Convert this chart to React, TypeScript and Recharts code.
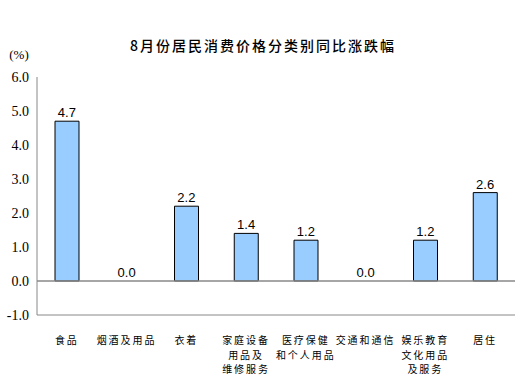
import React from 'react';
import { ComposedChart, Bar, Line, XAxis, YAxis, ReferenceLine } from 'recharts';

const categories = ['食品', '烟酒及用品', '衣着', '家庭设备\n用品及\n维修服务', '医疗保健\n和个人用品', '交通和通信', '娱乐教育\n文化用品\n及服务', '居住'];
const values = [4.7, 0.0, 2.2, 1.4, 1.2, 0.0, 1.2, 2.6];
const yTicks = [-1, 0, 1, 2, 3, 4, 5, 6];

const data = categories.map((name, i) => ({ name, value: values[i] }));

const CJK = '"Noto Sans CJK SC", "Noto Sans", sans-serif';

const CategoryTick = (props: any) => {
  const { x, y, payload } = props;
  const lines = String(payload.value).split('\n');
  return (
    <g transform={`translate(${x},${y})`}>
      {lines.map((line, i) => (
        <text key={i} x={0} y={21 + i * 14.5} textAnchor="middle" fontSize={10} letterSpacing={2} fill="#000" fontFamily={CJK}>
          {line}
        </text>
      ))}
    </g>
  );
};

// labels come from an invisible line so the zero bars get one too
const ValueLabel = (props: any) => {
  const { x, y, value } = props;
  return (
    <text x={x} y={y - 4} textAnchor="middle" fontSize={13} fill="#000" fontFamily='"Liberation Sans", Arial, sans-serif'>
      {Number(value).toFixed(1)}
    </text>
  );
};

export default function App() {
  return (
    <div style={{ position: 'absolute', left: 0, top: 0, width: 529, height: 388, background: '#fff' }}>
      <ComposedChart width={529} height={388} data={data} margin={{ top: 77, right: 14, bottom: 0, left: 0 }}>
        <text x={263} y={51} textAnchor="middle" fontSize={14} letterSpacing={2} fontWeight={500} fontFamily={CJK} fill="#000">
          8月份居民消费价格分类别同比涨跌幅
        </text>
        <text x={19} y={59} textAnchor="middle" fontSize={13} fontFamily='"Liberation Serif", serif' fill="#000">
          (%)
        </text>
        <XAxis dataKey="name" interval={0} height={73} tick={<CategoryTick />} tickLine={false} axisLine={{ stroke: '#888' }} />
        <XAxis xAxisId="top" dataKey="name" orientation="top" height={0} tick={false} tickLine={false} axisLine={{ stroke: '#888' }} />
        <YAxis
          domain={[-1, 6]}
          ticks={yTicks}
          width={37}
          tickLine={false}
          axisLine={{ stroke: '#888' }}
          tickFormatter={(v: number) => v.toFixed(1)}
          tick={{ fontSize: 14, fill: '#000', fontFamily: '"Liberation Serif", serif' }}
        />
        <YAxis yAxisId="right" orientation="right" width={0} tick={false} tickLine={false} axisLine={{ stroke: '#888' }} />
        <ReferenceLine y={0} stroke="#888" strokeWidth={1.5} />
        <Bar dataKey="value" fill="#99CCFF" stroke="#000" strokeWidth={1} barSize={24} isAnimationActive={false} />
        <Line dataKey="value" stroke="none" dot={false} activeDot={false} isAnimationActive={false} label={<ValueLabel />} />
      </ComposedChart>
    </div>
  );
}
